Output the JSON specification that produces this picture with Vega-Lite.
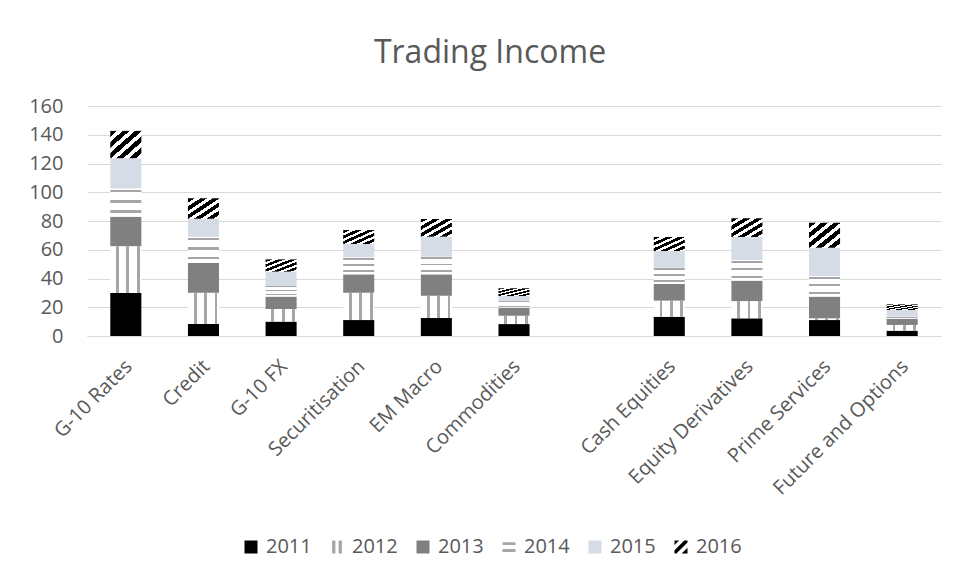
{
  "$schema": "https://vega.github.io/schema/vega-lite/v6.json",
  "width": 854,
  "height": 230,
  "autosize": {"type": "none"},
  "padding": {"left": 87, "top": 106, "right": 23, "bottom": 245},
  "background": "#ffffff",
  "title": {
    "text": "Trading Income",
    "font": "Open Sans",
    "fontSize": 32,
    "fontWeight": "normal",
    "color": "#595959",
    "anchor": "middle",
    "dx": -24,
    "offset": 26
  },
  "data": {
    "values": [
      {"cat": "G-10 Rates", "year": "2011", "value": 30},
      {"cat": "G-10 Rates", "year": "2012", "value": 32.5},
      {"cat": "G-10 Rates", "year": "2013", "value": 20.5},
      {"cat": "G-10 Rates", "year": "2014", "value": 19.7},
      {"cat": "G-10 Rates", "year": "2015", "value": 21},
      {"cat": "G-10 Rates", "year": "2016", "value": 19},
      {"cat": "Credit", "year": "2011", "value": 8.3},
      {"cat": "Credit", "year": "2012", "value": 21.8},
      {"cat": "Credit", "year": "2013", "value": 20.7},
      {"cat": "Credit", "year": "2014", "value": 18.3},
      {"cat": "Credit", "year": "2015", "value": 12.5},
      {"cat": "Credit", "year": "2016", "value": 14.2},
      {"cat": "G-10 FX", "year": "2011", "value": 10},
      {"cat": "G-10 FX", "year": "2012", "value": 8.8},
      {"cat": "G-10 FX", "year": "2013", "value": 8.6},
      {"cat": "G-10 FX", "year": "2014", "value": 7.4},
      {"cat": "G-10 FX", "year": "2015", "value": 10},
      {"cat": "G-10 FX", "year": "2016", "value": 8.5},
      {"cat": "Securitisation", "year": "2011", "value": 11.1},
      {"cat": "Securitisation", "year": "2012", "value": 19},
      {"cat": "Securitisation", "year": "2013", "value": 12.8},
      {"cat": "Securitisation", "year": "2014", "value": 11.8},
      {"cat": "Securitisation", "year": "2015", "value": 9.3},
      {"cat": "Securitisation", "year": "2016", "value": 9.7},
      {"cat": "EM Macro", "year": "2011", "value": 12.5},
      {"cat": "EM Macro", "year": "2012", "value": 15.5},
      {"cat": "EM Macro", "year": "2013", "value": 14.9},
      {"cat": "EM Macro", "year": "2014", "value": 12.3},
      {"cat": "EM Macro", "year": "2015", "value": 13.9},
      {"cat": "EM Macro", "year": "2016", "value": 12.3},
      {"cat": "Commodities", "year": "2011", "value": 8.3},
      {"cat": "Commodities", "year": "2012", "value": 5.8},
      {"cat": "Commodities", "year": "2013", "value": 5.6},
      {"cat": "Commodities", "year": "2014", "value": 4.6},
      {"cat": "Commodities", "year": "2015", "value": 3.5},
      {"cat": "Commodities", "year": "2016", "value": 5.4},
      {"cat": "Cash Equities", "year": "2011", "value": 13.4},
      {"cat": "Cash Equities", "year": "2012", "value": 11.2},
      {"cat": "Cash Equities", "year": "2013", "value": 11.6},
      {"cat": "Cash Equities", "year": "2014", "value": 11.3},
      {"cat": "Cash Equities", "year": "2015", "value": 11.6},
      {"cat": "Cash Equities", "year": "2016", "value": 9.8},
      {"cat": "Equity Derivatives", "year": "2011", "value": 12.3},
      {"cat": "Equity Derivatives", "year": "2012", "value": 12},
      {"cat": "Equity Derivatives", "year": "2013", "value": 14.2},
      {"cat": "Equity Derivatives", "year": "2014", "value": 14.4},
      {"cat": "Equity Derivatives", "year": "2015", "value": 16},
      {"cat": "Equity Derivatives", "year": "2016", "value": 13},
      {"cat": "Prime Services", "year": "2011", "value": 11.1},
      {"cat": "Prime Services", "year": "2012", "value": 1.2},
      {"cat": "Prime Services", "year": "2013", "value": 15.1},
      {"cat": "Prime Services", "year": "2014", "value": 14.3},
      {"cat": "Prime Services", "year": "2015", "value": 19.7},
      {"cat": "Prime Services", "year": "2016", "value": 17.4},
      {"cat": "Future and Options", "year": "2011", "value": 3.7},
      {"cat": "Future and Options", "year": "2012", "value": 4},
      {"cat": "Future and Options", "year": "2013", "value": 4.3},
      {"cat": "Future and Options", "year": "2014", "value": 1.5},
      {"cat": "Future and Options", "year": "2015", "value": 4.6},
      {"cat": "Future and Options", "year": "2016", "value": 3.9}
    ]
  },
  "encoding": {
    "x": {
      "field": "cat",
      "type": "nominal",
      "sort": null,
      "scale": {
        "domain": ["G-10 Rates", "Credit", "G-10 FX", "Securitisation", "EM Macro", "Commodities", " ", "Cash Equities", "Equity Derivatives", "Prime Services", "Future and Options"],
        "paddingInner": 0.6,
        "paddingOuter": 0.3
      },
      "axis": {
        "title": null,
        "labelAngle": -45,
        "labelFont": "Open Sans",
        "labelFontSize": 20,
        "labelColor": "#595959",
        "labelLimit": 400,
        "labelOffset": -4,
        "ticks": false,
        "domainColor": "#D9D9D9",
        "domainWidth": 1,
        "labelPadding": 20
      }
    },
    "y": {
      "field": "value",
      "type": "quantitative",
      "stack": "zero",
      "scale": {"domain": [0, 160], "nice": false},
      "axis": {
        "title": null,
        "values": [0, 20, 40, 60, 80, 100, 120, 140, 160],
        "labelFont": "Open Sans",
        "labelFontSize": 20,
        "labelColor": "#595959",
        "ticks": false,
        "domain": false,
        "gridColor": "#D9D9D9",
        "gridWidth": 1,
        "labelPadding": 24
      }
    },
    "order": {"field": "year", "type": "ordinal", "sort": "ascending"}
  },
  "layer": [
    {
      "mark": {"type": "bar", "strokeWidth": 0},
      "encoding": {
        "fill": {
          "field": "year",
          "type": "nominal",
          "condition": [
            {"test": "datum.year === '2012'", "value": {"gradient": "linear", "x1": 0, "y1": 0, "x2": 1, "y2": 0, "stops": [
                {"offset": 0, "color": "#ffffff"}, {"offset": 0.19, "color": "#ffffff"},
                {"offset": 0.19, "color": "#a6a6a6"}, {"offset": 0.28, "color": "#a6a6a6"},
                {"offset": 0.28, "color": "#ffffff"}, {"offset": 0.52, "color": "#ffffff"},
                {"offset": 0.52, "color": "#a6a6a6"}, {"offset": 0.61, "color": "#a6a6a6"},
                {"offset": 0.61, "color": "#ffffff"}, {"offset": 0.86, "color": "#ffffff"},
                {"offset": 0.86, "color": "#a6a6a6"}, {"offset": 0.95, "color": "#a6a6a6"},
                {"offset": 0.95, "color": "#ffffff"}, {"offset": 1, "color": "#ffffff"}
              ]}},
            {"test": "datum.year === '2014'", "value": {"gradient": "linear", "x1": 0, "y1": 0, "x2": 0, "y2": 1, "stops": [
                {"offset": 0, "color": "#ffffff"}, {"offset": 0.04, "color": "#ffffff"},
                {"offset": 0.04, "color": "#a6a6a6"}, {"offset": 0.13, "color": "#a6a6a6"},
                {"offset": 0.13, "color": "#ffffff"}, {"offset": 0.4, "color": "#ffffff"},
                {"offset": 0.4, "color": "#a6a6a6"}, {"offset": 0.5, "color": "#a6a6a6"},
                {"offset": 0.5, "color": "#ffffff"}, {"offset": 0.76, "color": "#ffffff"},
                {"offset": 0.76, "color": "#a6a6a6"}, {"offset": 0.86, "color": "#a6a6a6"},
                {"offset": 0.86, "color": "#ffffff"}, {"offset": 1, "color": "#ffffff"}
              ]}},
            {"test": "datum.year === '2016'", "value": {"gradient": "linear", "x1": 0, "y1": 0, "x2": 1, "y2": 1, "stops": [
                {"offset": 0, "color": "#000000"}, {"offset": 0.11, "color": "#000000"},
                {"offset": 0.11, "color": "#ffffff"}, {"offset": 0.2, "color": "#ffffff"},
                {"offset": 0.2, "color": "#000000"}, {"offset": 0.31, "color": "#000000"},
                {"offset": 0.31, "color": "#ffffff"}, {"offset": 0.4, "color": "#ffffff"},
                {"offset": 0.4, "color": "#000000"}, {"offset": 0.51, "color": "#000000"},
                {"offset": 0.51, "color": "#ffffff"}, {"offset": 0.6, "color": "#ffffff"},
                {"offset": 0.6, "color": "#000000"}, {"offset": 0.71, "color": "#000000"},
                {"offset": 0.71, "color": "#ffffff"}, {"offset": 0.8, "color": "#ffffff"},
                {"offset": 0.8, "color": "#000000"}, {"offset": 0.91, "color": "#000000"},
                {"offset": 0.91, "color": "#ffffff"}, {"offset": 1, "color": "#ffffff"}
              ]}}
          ],
          "scale": {
            "domain": ["2011", "2012", "2013", "2014", "2015", "2016"],
            "range": ["#000000", "#a6a6a6", "#808080", "#a6a6a6", "#D6DCE5", "#000000"]
          }
        }
      }
    },
    {
      "mark": {"type": "point", "filled": true, "opacity": 0, "strokeWidth": 0},
      "encoding": {
        "fill": {
          "field": "year",
          "type": "nominal",
          "legend": {
            "title": null,
            "orient": "none",
            "legendX": 154,
            "legendY": 431,
            "direction": "horizontal",
            "symbolSize": 169,
            "symbolOpacity": 1,
            "symbolStrokeWidth": 0,
            "labelFont": "Open Sans",
            "labelFontSize": 20,
            "labelColor": "#595959",
            "labelOffset": 5,
            "columnPadding": 15
          }
        },
        "shape": {
          "field": "year",
          "type": "nominal",
          "scale": {
            "domain": ["2011", "2012", "2013", "2014", "2015", "2016"],
            "range": [
              "M-1,-1H1V1H-1Z",
              "M-0.75,-1H-0.25V1H-0.75Z M0.25,-1H0.75V1H0.25Z",
              "M-1,-1H1V1H-1Z",
              "M-1,-0.75H1V-0.3H-1Z M-1,0.3H1V0.75H-1Z",
              "M-1,-1H1V1H-1Z",
              "M-1,-1L-0.3,-1L-1,-0.3Z M0.5,-1L1,-1L1,-0.7L-0.7,1L-1,1L-1,0.5Z M1,0.1L1,1L0.1,1Z"
            ]
          },
          "legend": {
            "title": null,
            "orient": "none",
            "legendX": 154,
            "legendY": 431,
            "direction": "horizontal",
            "symbolSize": 169,
            "symbolOpacity": 1,
            "symbolStrokeWidth": 0,
            "labelFont": "Open Sans",
            "labelFontSize": 20,
            "labelColor": "#595959",
            "labelOffset": 5,
            "columnPadding": 15
          }
        }
      }
    }
  ],
  "config": {
    "view": {"stroke": null}
  }
}
